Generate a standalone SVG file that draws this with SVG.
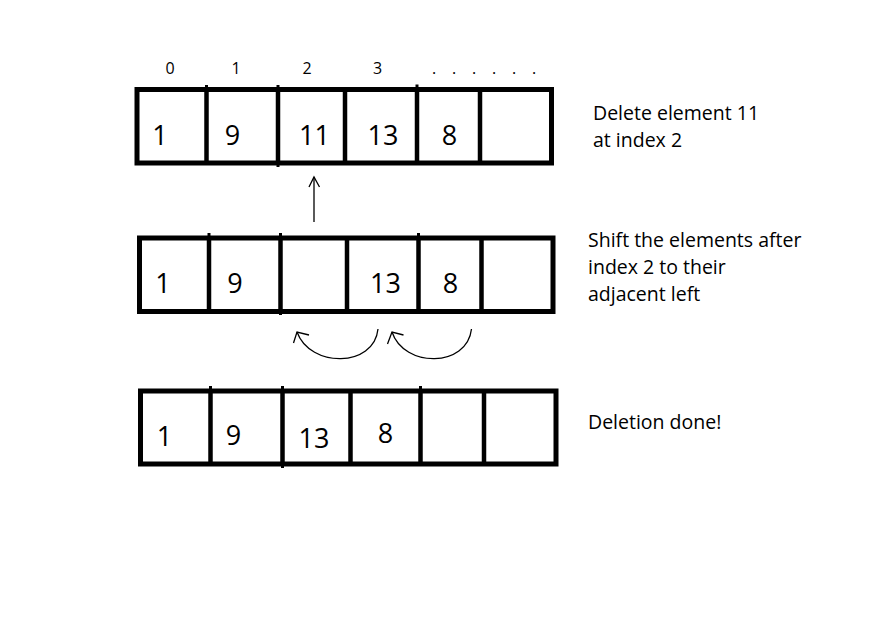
<svg xmlns="http://www.w3.org/2000/svg" width="876" height="641" viewBox="0 0 876 641">
<style>
.box{fill:none;stroke:#000;stroke-width:5}
.div{stroke:#000;stroke-width:4.5}
.tick{stroke:#000;stroke-width:3}
.num{font-family:"Open Sans","Liberation Sans",sans-serif;font-size:27px;fill:#000;text-anchor:middle}
.idx{font-family:"Open Sans","Liberation Sans",sans-serif;font-size:16px;fill:#000;text-anchor:middle}
.lbl{font-family:"Open Sans","Liberation Sans",sans-serif;font-size:19.5px;fill:#000}
.arr{fill:none;stroke:#000;stroke-width:1.3}
</style>
<rect width="876" height="641" fill="#fff"/>
<g id="indices">
<text class="idx" x="170" y="74">0</text>
<text class="idx" x="236" y="74">1</text>
<text class="idx" x="307" y="74">2</text>
<text class="idx" x="377.5" y="74">3</text>
<text class="idx" x="434 454 474 494 514 534" y="74">......</text>
</g>
<g id="array1">
<rect class="box" x="137" y="89.5" width="414.5" height="73.5"/>
<line class="div" x1="206.5" y1="89" x2="206.5" y2="163"/>
<line class="div" x1="278" y1="89" x2="278" y2="163"/>
<line class="div" x1="345" y1="89" x2="345" y2="163"/>
<line class="div" x1="417" y1="89" x2="417" y2="163"/>
<line class="div" x1="480" y1="89" x2="480" y2="163"/>
<line class="tick" x1="206.5" y1="85" x2="206.5" y2="90"/>
<line class="tick" x1="278" y1="85" x2="278" y2="90"/>
<line class="tick" x1="417" y1="84.5" x2="417" y2="90"/>
<line class="tick" x1="278" y1="162" x2="278" y2="167"/>
<text class="num" x="160" y="145">1</text>
<text class="num" x="232.5" y="145">9</text>
<text class="num" x="314.5" y="145">11</text>
<text class="num" x="383" y="145">13</text>
<text class="num" x="449.5" y="145">8</text>
</g>
<g id="array2">
<rect class="box" x="139.5" y="238" width="413.5" height="73.5"/>
<line class="div" x1="209" y1="238" x2="209" y2="311.5"/>
<line class="div" x1="280.5" y1="238" x2="280.5" y2="311.5"/>
<line class="div" x1="347" y1="238" x2="347" y2="311.5"/>
<line class="div" x1="418.5" y1="238" x2="418.5" y2="311.5"/>
<line class="div" x1="481.5" y1="238" x2="481.5" y2="311.5"/>
<line class="tick" x1="209" y1="233" x2="209" y2="238"/>
<line class="tick" x1="280.5" y1="233" x2="280.5" y2="238"/>
<line class="tick" x1="418.5" y1="233" x2="418.5" y2="238"/>
<line class="tick" x1="280.5" y1="311" x2="280.5" y2="315"/>
<text class="num" x="163" y="293">1</text>
<text class="num" x="235" y="293">9</text>
<text class="num" x="385.5" y="293">13</text>
<text class="num" x="450.5" y="293">8</text>
</g>
<g id="array3">
<rect class="box" x="140.5" y="391" width="415.5" height="73"/>
<line class="div" x1="210.5" y1="391" x2="210.5" y2="464"/>
<line class="div" x1="282.5" y1="391" x2="282.5" y2="464"/>
<line class="div" x1="350.5" y1="391" x2="350.5" y2="464"/>
<line class="div" x1="420.5" y1="391" x2="420.5" y2="464"/>
<line class="div" x1="484" y1="391" x2="484" y2="464"/>
<line class="tick" x1="210.5" y1="386" x2="210.5" y2="391"/>
<line class="tick" x1="282.5" y1="386" x2="282.5" y2="391"/>
<line class="tick" x1="420.5" y1="386" x2="420.5" y2="391"/>
<line class="tick" x1="282.5" y1="463" x2="282.5" y2="468"/>
<text class="num" x="164.5" y="446">1</text>
<text class="num" x="233.5" y="445">9</text>
<text class="num" x="314" y="448">13</text>
<text class="num" x="385.5" y="443">8</text>
</g>
<g id="labels">
<text class="lbl" x="593" y="119.5">Delete element 11</text>
<text class="lbl" x="593" y="147">at index 2</text>
<text class="lbl" x="588" y="247">Shift the elements after</text>
<text class="lbl" x="588" y="274">index 2 to their</text>
<text class="lbl" x="588" y="300.5">adjacent left</text>
<text class="lbl" x="588" y="428.5">Deletion done!</text>
</g>
<g id="connectors">
<line class="arr" x1="314" y1="222" x2="314" y2="177"/>
<polyline class="arr" points="309,187 314,177 319.5,187"/>
<path class="arr" d="M378,329 C374,368 310,368 297,332"/>
<polyline class="arr" points="309,335 297,332 293.5,343"/>
<path class="arr" d="M471.5,329 C467,368 404,368 392,332"/>
<polyline class="arr" points="403.5,335 392,332 387.5,344"/>
</g>
</svg>
